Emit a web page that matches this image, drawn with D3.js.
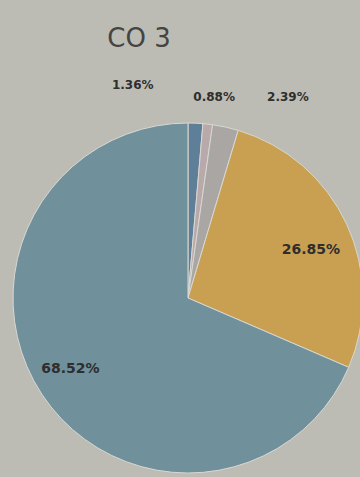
<!DOCTYPE html>
<html><head><meta charset="utf-8">
<script src="https://cdn.jsdelivr.net/npm/d3@7"></script>
<style>html,body{margin:0;padding:0;background:#bcbcb4;}svg{display:block;}</style>
</head><body>
<svg id="c" width="360" height="477"></svg>
<script>
const title = "CO 3";
const categories = ["A", "B", "C", "D", "E"];
const values = [1.36, 0.88, 2.39, 26.85, 68.52];
const labels = ["1.36%", "0.88%", "2.39%", "26.85%", "68.52%"];
const colors = ["#5f7f98", "#b9a9ab", "#a9a6a3", "#c9a052", "#70909c"];

const W = 360, H = 477, cx = 188, cy = 298, R = 175;
const svg = d3.select("#c");
svg.append("rect").attr("width", W).attr("height", H).attr("fill", "#bcbcb4");

svg.append("text").attr("x", 139).attr("y", 47).attr("text-anchor", "middle")
  .attr("font-family", "DejaVu Sans, sans-serif").attr("font-size", 26)
  .attr("fill", "#444").text(title);

const pie = d3.pie().sort(null).value(d => d);
const arcs = pie(values);
const arc = d3.arc().innerRadius(0).outerRadius(R);
const g = svg.append("g").attr("transform", `translate(${cx},${cy})`);
g.selectAll("path").data(arcs).join("path")
  .attr("d", arc).attr("fill", (d, i) => colors[i])
  .attr("stroke", "#d8d8d2").attr("stroke-width", 1);

const inner = d3.arc().innerRadius(R * 0.75).outerRadius(R * 0.75);
const outer = d3.arc().innerRadius(R + 30).outerRadius(R + 30);
const shiftX = [-64, 3, 56, 4, -8];
const shiftY = [-8, 2, -1, 7, -2];
arcs.forEach((a, i) => {
  const isIn = values[i] > 10;
  const p = isIn ? inner.centroid(a) : outer.centroid(a);
  g.append("text")
    .attr("x", p[0] + shiftX[i]).attr("y", p[1] + shiftY[i])
    .attr("dy", "0.35em").attr("text-anchor", "middle")
    .attr("font-family", "DejaVu Sans, sans-serif")
    .attr("font-size", isIn ? 14 : 12)
    .attr("font-weight", "bold")
    .attr("fill", "#2e2e2e")
    .text(labels[i]);
});
</script>
</body></html>
